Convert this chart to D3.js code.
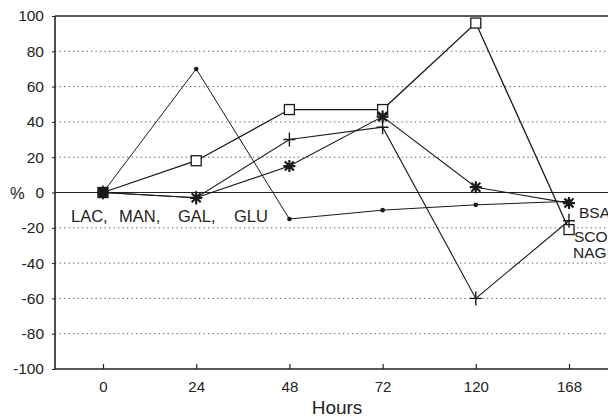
<!DOCTYPE html>
<html>
<head>
<meta charset="utf-8">
<script src="https://cdn.jsdelivr.net/npm/d3@7"></script>
<style>
  body { margin: 0; background: #fff; }
  svg { font-family: "Liberation Sans", Arial, Helvetica, sans-serif; }
</style>
</head>
<body>
<svg width="608" height="419"></svg>
<script>
// data
var hours = ["0", "24", "48", "72", "120", "168"];
var yTicks = [100, 80, 60, 40, 20, 0, -20, -40, -60, -80, -100];
var dotSeries = [0, 70, -15, -10, -7, -5];
var squareSeries = [0, 18, 47, 47, 96, -21];
var plusSeries = [0, -3, 30, 37, -60, -16];
var starSeries = [0, -3, 15, 43, 3, -6];
var leftLabel = ["LAC,", "MAN,", "GAL,", "GLU"];
var endLabels = ["BSA", "SCO", "NAG"];

var svg = d3.select("svg"),
    W = 608,
    left = 55;

var x = d3.scalePoint().domain(hours).range([103, 569]);
var y = d3.scaleLinear().domain([-100, 100]).range([369, 16]);

// dotted grid
svg.append("g").selectAll("line")
    .data(yTicks.filter(function(d) { return d != 0 && Math.abs(d) != 100; }))
    .enter().append("line")
    .attr("x1", left).attr("x2", W)
    .attr("y1", function(d) { return y(d); })
    .attr("y2", function(d) { return y(d); })
    .attr("stroke", "#555")
    .attr("stroke-width", 1)
    .attr("stroke-dasharray", "1.3,3.2");

// frame + zero line
svg.append("line").attr("x1", left).attr("x2", W).attr("y1", y(100)).attr("y2", y(100))
    .attr("stroke", "#222").attr("stroke-width", 1.3);
svg.append("line").attr("x1", left).attr("x2", W).attr("y1", y(0)).attr("y2", y(0))
    .attr("stroke", "#222").attr("stroke-width", 1.2);
svg.append("line").attr("x1", left).attr("x2", W).attr("y1", y(-100)).attr("y2", y(-100))
    .attr("stroke", "#222").attr("stroke-width", 1.6);
svg.append("line").attr("x1", left).attr("x2", left).attr("y1", y(100)).attr("y2", y(-100))
    .attr("stroke", "#222").attr("stroke-width", 1.6);

// y axis labels
var yAxis = d3.axisLeft(y).tickValues(yTicks).tickSize(3).tickPadding(8)
    .tickFormat(function(d) { return d; });
var gy = svg.append("g").attr("transform", "translate(" + left + ",0)").call(yAxis);
gy.select(".domain").remove();
gy.selectAll("text").attr("font-size", 15.5).attr("fill", "#222")
    .attr("font-family", "Liberation Sans, Arial, sans-serif");
gy.selectAll("line").attr("stroke", "#222");
svg.append("text").attr("x", 10).attr("y", y(0) + 6)
    .attr("font-size", 16.5).attr("fill", "#222").text("%");

// x axis
var xAxis = d3.axisBottom(x).tickSizeInner(-5).tickSizeOuter(0).tickPadding(12);
var gx = svg.append("g").attr("transform", "translate(0," + y(-100) + ")").call(xAxis);
gx.select(".domain").remove();
gx.selectAll("line").attr("stroke", "#222").attr("stroke-width", 1.2);
gx.selectAll("text").attr("font-size", 15).attr("fill", "#222")
    .attr("font-family", "Liberation Sans, Arial, sans-serif");

svg.append("text").attr("x", 337).attr("y", 414)
    .attr("text-anchor", "middle").attr("font-size", 19).attr("fill", "#222")
    .text("Hours");

// series lines
var series = [
    { values: dotSeries, width: 1, shape: "dot" },
    { values: squareSeries, width: 1.3, shape: "square" },
    { values: plusSeries, width: 1.1, shape: "plus" },
    { values: starSeries, width: 1.1, shape: "star" }
];

var line = d3.line()
    .x(function(d, i) { return x(hours[i]); })
    .y(function(d) { return y(d); });

svg.append("g").selectAll("path")
    .data(series)
    .enter().append("path")
    .attr("d", function(s) { return line(s.values); })
    .attr("fill", "none")
    .attr("stroke", "#1a1a1a")
    .attr("stroke-width", function(s) { return s.width; });

// markers
function markerPath(shape) {
    if (shape == "plus") return "M-6,0H6M0,-7V7";
    if (shape == "star") return "M-6,0H6M0,-6V6M-4.5,-4.5L4.5,4.5M-4.5,4.5L4.5,-4.5";
    return null;
}

series.forEach(function(s) {
    var g = svg.append("g");
    s.values.forEach(function(v, i) {
        var cx = x(hours[i]), cy = y(v);
        if (s.shape == "dot") {
            g.append("circle").attr("cx", cx).attr("cy", cy).attr("r", 2.3).attr("fill", "#1a1a1a");
        } else if (s.shape == "square") {
            g.append("rect").attr("x", cx - 5).attr("y", cy - 5).attr("width", 10).attr("height", 10)
                .attr("fill", i == 0 ? "#222" : "#fff").attr("stroke", "#1a1a1a").attr("stroke-width", 1.3);
        } else {
            g.append("path").attr("transform", "translate(" + cx + "," + cy + ")")
                .attr("d", markerPath(s.shape))
                .attr("stroke", "#1a1a1a")
                .attr("stroke-width", s.shape == "star" ? 2.2 : 1.4);
        }
    });
});

// annotations
var la = svg.append("text").attr("y", 222).attr("font-size", 16.5).attr("fill", "#222");
var lx = [71, 119, 178, 234];
leftLabel.forEach(function(t, i) {
    la.append("tspan").attr("x", lx[i]).text(t);
});

var ex = [579, 574, 573], ey = [218, 242, 258];
svg.selectAll(".endlab").data(endLabels).enter().append("text")
    .attr("class", "endlab")
    .attr("x", function(d, i) { return ex[i]; })
    .attr("y", function(d, i) { return ey[i]; })
    .attr("font-size", 15.5).attr("fill", "#222")
    .text(function(d) { return d; });
</script>
</body>
</html>
